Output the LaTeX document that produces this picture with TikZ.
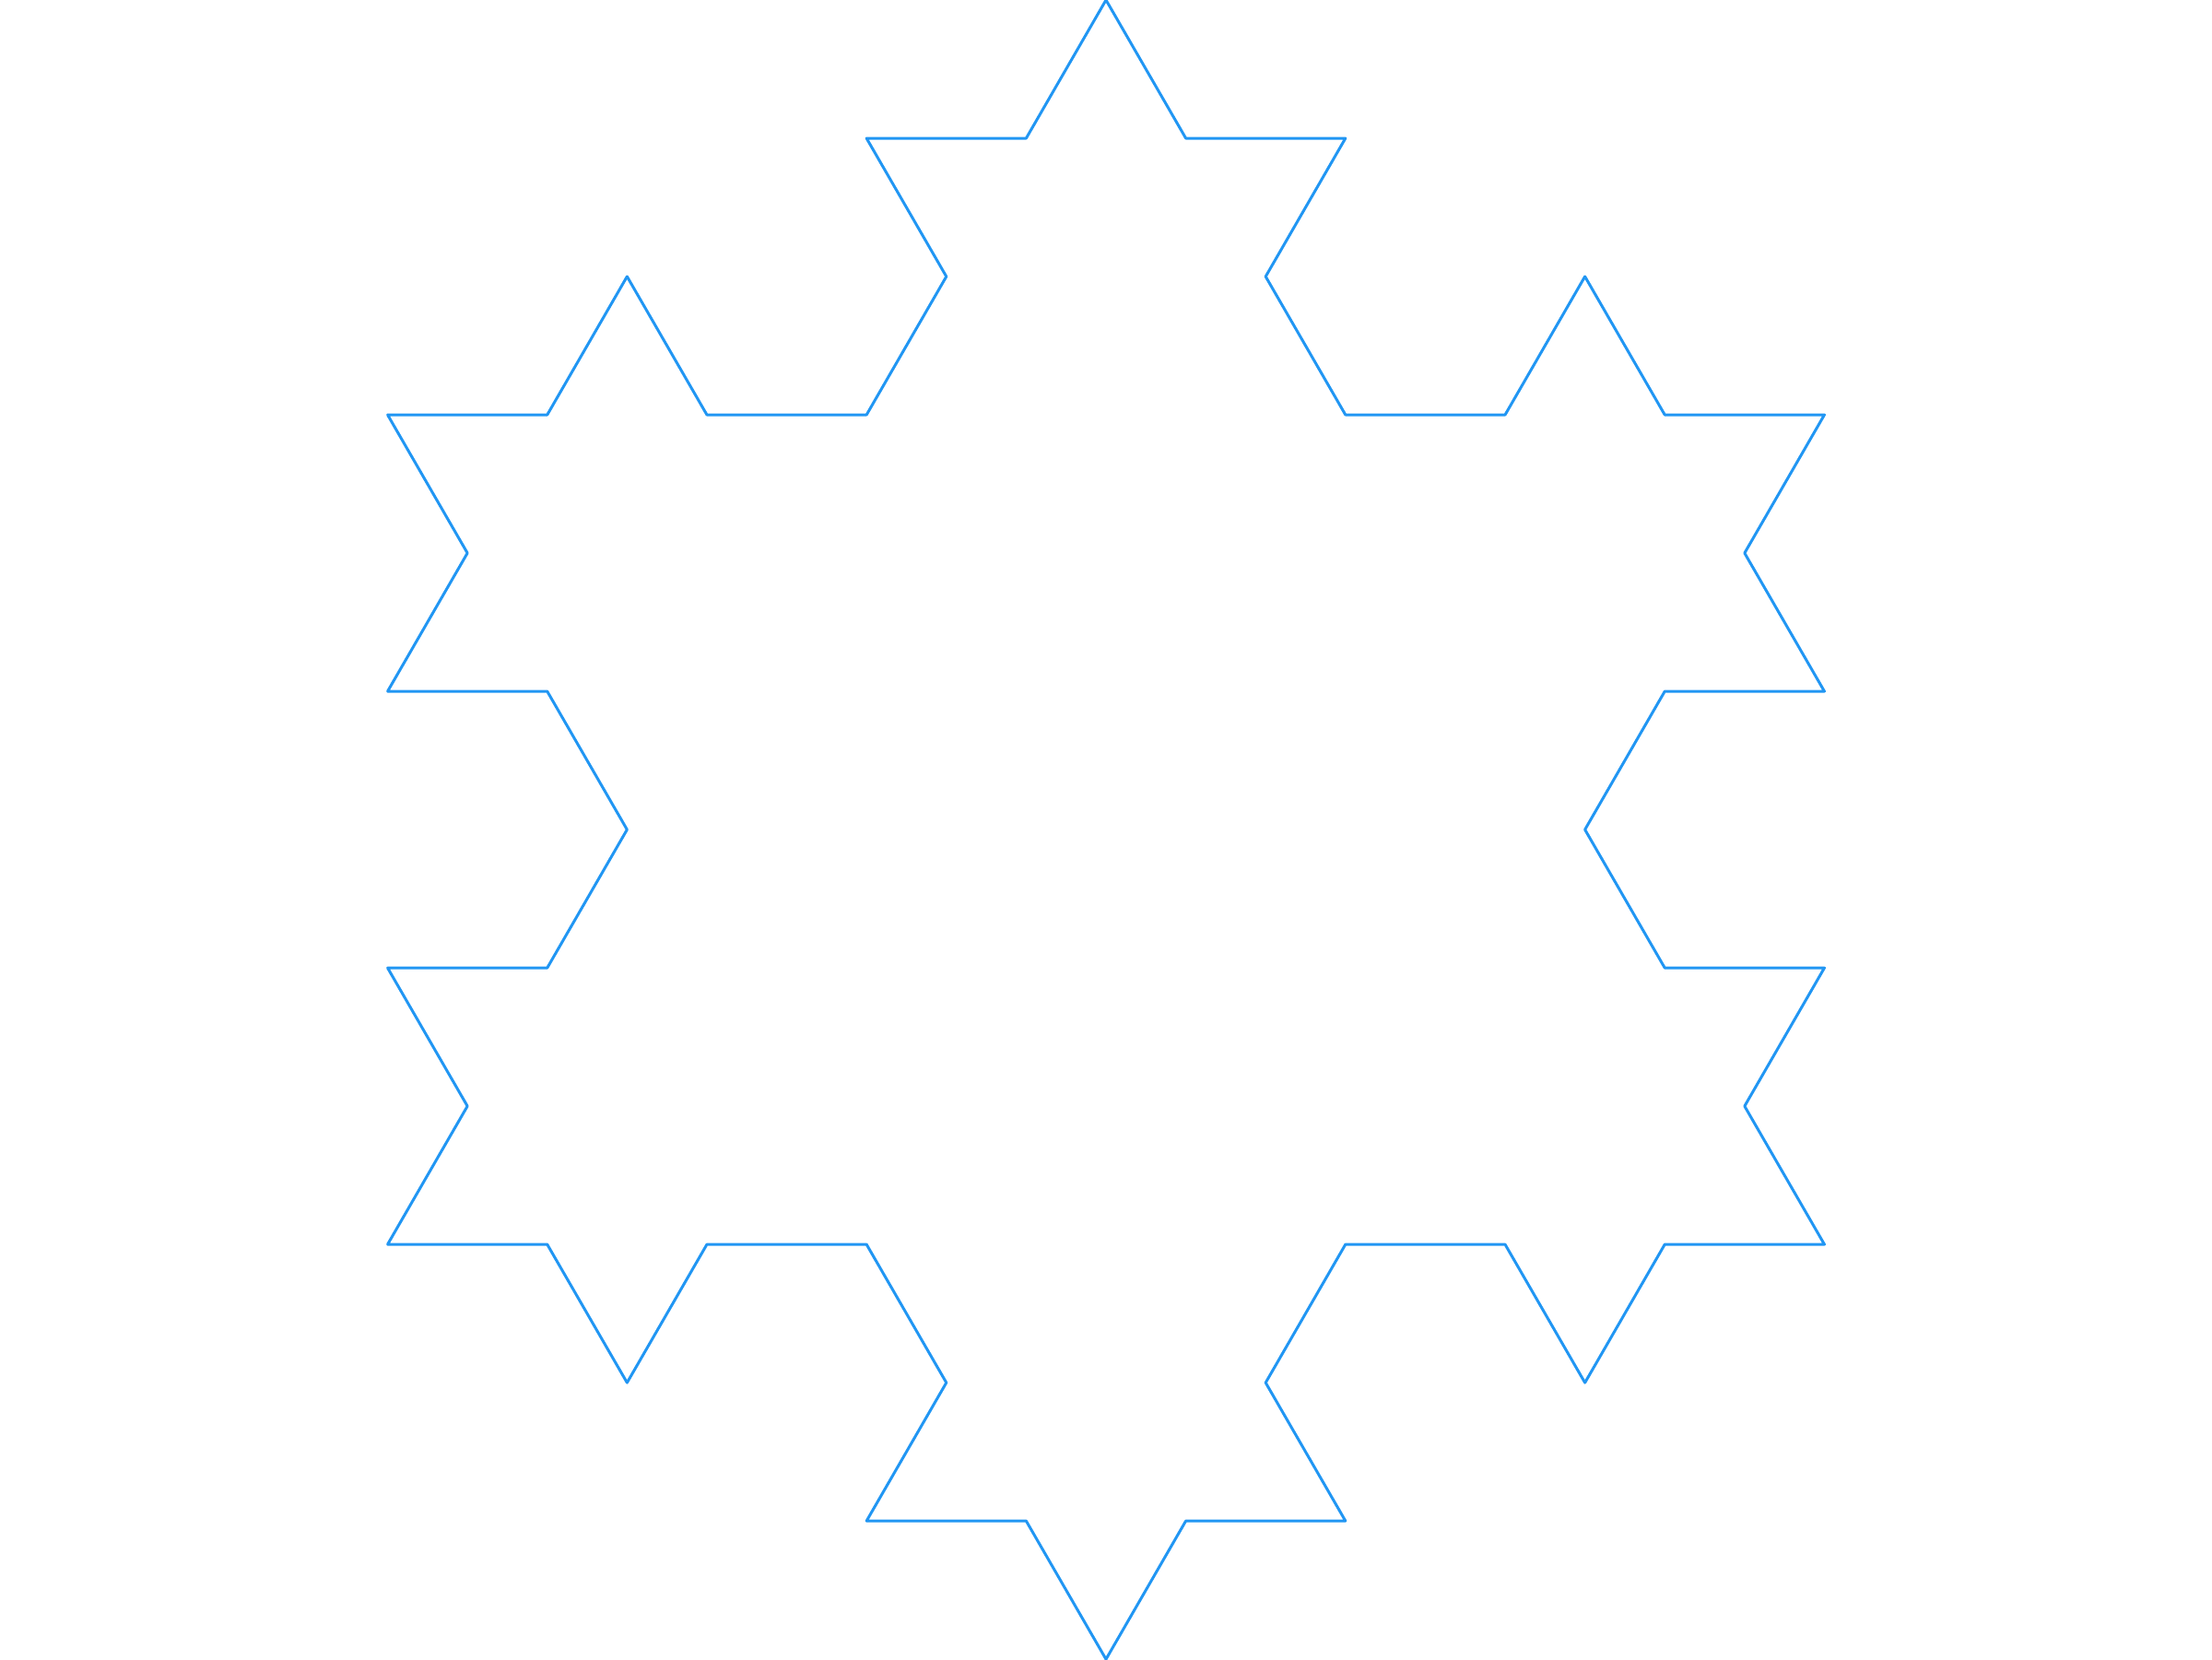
\documentclass[tikz,border=0pt]{standalone}
\usepackage{tikz}

\definecolor{flakeblue}{HTML}{2196F3}

\begin{document}
\begin{tikzpicture}[
        x=0.866cm, y=1.5cm,
        flake/.style={draw=flakeblue, line width=0.85pt, line join=round}
    ]
    \useasboundingbox (-13.856,-6) rectangle (13.856,6);
    % left half, top to bottom
    \draw[flake] (0,6) -- (-1,5) -- (-3,5) -- (-2,4) -- (-3,3) -- (-5,3)
        -- (-6,4) -- (-7,3) -- (-9,3) -- (-8,2) -- (-9,1) -- (-7,1)
        -- (-6,0) -- (-7,-1) -- (-9,-1) -- (-8,-2) -- (-9,-3) -- (-7,-3)
        -- (-6,-4) -- (-5,-3) -- (-3,-3) -- (-2,-4) -- (-3,-5) -- (-1,-5)
        -- (0,-6)
    % right half, bottom to top
        -- (1,-5) -- (3,-5) -- (2,-4) -- (3,-3) -- (5,-3) -- (6,-4)
        -- (7,-3) -- (9,-3) -- (8,-2) -- (9,-1) -- (7,-1) -- (6,0)
        -- (7,1) -- (9,1) -- (8,2) -- (9,3) -- (7,3) -- (6,4)
        -- (5,3) -- (3,3) -- (2,4) -- (3,5) -- (1,5) -- cycle;
\end{tikzpicture}
\end{document}
